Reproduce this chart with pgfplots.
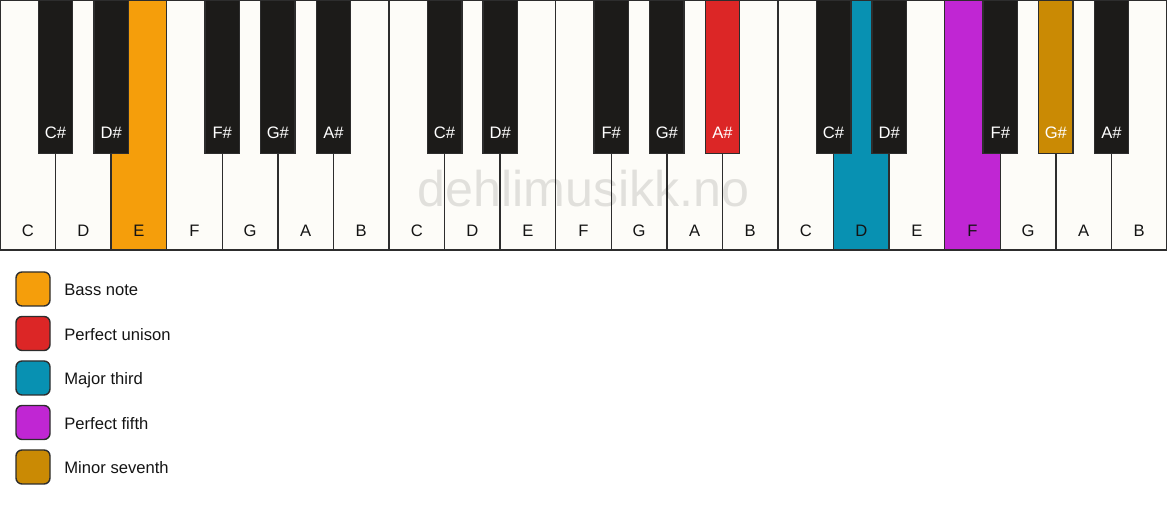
\documentclass[border=0pt]{standalone}
\usepackage{pgfplots}
\pgfplotsset{compat=1.18}
\usepackage{fontspec}
\setmainfont{Liberation Sans}

\definecolor{keywhite}{RGB}{253,252,248}
\definecolor{keyblack}{RGB}{28,27,25}
\definecolor{keyline}{RGB}{45,45,45}
\definecolor{labeldark}{RGB}{20,20,20}
\definecolor{bassnote}{RGB}{245,158,11}
\definecolor{unison}{RGB}{220,38,38}
\definecolor{third}{RGB}{8,145,178}
\definecolor{fifth}{RGB}{192,38,211}
\definecolor{seventh}{RGB}{202,138,4}

\newcommand{\keyfont}{\fontsize{8.3}{10}\selectfont}

% x in white-key units, y in pixels (0 = bottom edge of the keyboard)
% \wkey{left}{right}{fill}, \bkey{left}{right}{fill}
\newcommand{\wkey}[3]{\addplot[fill=#3, draw=keyline, line width=0.7pt]
  coordinates {(#1,0) (#2,0) (#2,250) (#1,250)} -- cycle;}
\newcommand{\bkey}[3]{\addplot[fill=#3, draw=keyline, line width=0.7pt]
  coordinates {(#1,96.7) (#2,96.7) (#2,250) (#1,250)} -- cycle;}
\newcommand{\wlab}[2]{\node[anchor=base, inner sep=0pt, text=labeldark, font=\keyfont] at (axis cs:#1,13.3) {#2};}
\newcommand{\blab}[2]{\node[anchor=base, inner sep=0pt, text=white, font=\keyfont] at (axis cs:#1,111) {#2};}
% legend swatch: top, bottom, fill
\newcommand{\swatch}[3]{\addplot[fill=#3, draw=keyline, line width=0.7pt, rounded corners=3pt]
  coordinates {(0.288,#1) (0.900,#1) (0.900,#2) (0.288,#2)} -- cycle;}
\newcommand{\swlab}[2]{\node[anchor=base west, inner sep=0pt, text=labeldark, font=\keyfont] at (axis cs:1.152,#1) {#2};}

\begin{document}
\begin{tikzpicture}
\begin{axis}[
    x=27.7857pt, y=0.5pt,
    xmin=0, xmax=21, ymin=-256, ymax=250,
    enlargelimits=false,
    hide axis,
    clip=false,
]

% white keys
\wkey{0}{1}{keywhite}
\wkey{1}{2}{keywhite}
\wkey{2}{3}{bassnote}
\wkey{3}{4}{keywhite}
\wkey{4}{5}{keywhite}
\wkey{5}{6}{keywhite}
\wkey{6}{7}{keywhite}
\wkey{7}{8}{keywhite}
\wkey{8}{9}{keywhite}
\wkey{9}{10}{keywhite}
\wkey{10}{11}{keywhite}
\wkey{11}{12}{keywhite}
\wkey{12}{13}{keywhite}
\wkey{13}{14}{keywhite}
\wkey{14}{15}{keywhite}
\wkey{15}{16}{third}
\wkey{16}{17}{keywhite}
\wkey{17}{18}{fifth}
\wkey{18}{19}{keywhite}
\wkey{19}{20}{keywhite}
\wkey{20}{21}{keywhite}

% watermark
\node[anchor=base, inner sep=0pt, text=black, text opacity=0.11,
      font=\fontsize{25.1}{30}\selectfont] at (axis cs:10.5,43) {dehlimusikk.no};

% black keys
\bkey{0.69}{1.31}{keyblack}
\bkey{1.69}{2.31}{keyblack}
\bkey{3.69}{4.31}{keyblack}
\bkey{4.69}{5.31}{keyblack}
\bkey{5.69}{6.31}{keyblack}
\bkey{7.69}{8.31}{keyblack}
\bkey{8.69}{9.31}{keyblack}
\bkey{10.69}{11.31}{keyblack}
\bkey{11.69}{12.31}{keyblack}
\bkey{12.69}{13.31}{unison}
\bkey{14.69}{15.31}{keyblack}
\bkey{15.69}{16.31}{keyblack}
\bkey{17.69}{18.31}{keyblack}
\bkey{18.69}{19.31}{seventh}
\bkey{19.69}{20.31}{keyblack}

% white key names
\wlab{0.5}{C}  \wlab{1.5}{D}  \wlab{2.5}{E}  \wlab{3.5}{F}
\wlab{4.5}{G}  \wlab{5.5}{A}  \wlab{6.5}{B}
\wlab{7.5}{C}  \wlab{8.5}{D}  \wlab{9.5}{E}  \wlab{10.5}{F}
\wlab{11.5}{G} \wlab{12.5}{A} \wlab{13.5}{B}
\wlab{14.5}{C} \wlab{15.5}{D} \wlab{16.5}{E} \wlab{17.5}{F}
\wlab{18.5}{G} \wlab{19.5}{A} \wlab{20.5}{B}

% black key names
\blab{1}{C\#}  \blab{2}{D\#}  \blab{4}{F\#}  \blab{5}{G\#}  \blab{6}{A\#}
\blab{8}{C\#}  \blab{9}{D\#}  \blab{11}{F\#} \blab{12}{G\#} \blab{13}{A\#}
\blab{15}{C\#} \blab{16}{D\#} \blab{18}{F\#} \blab{19}{G\#} \blab{20}{A\#}

% legend
\swatch{-22}{-56}{bassnote}
\swatch{-66.5}{-100.5}{unison}
\swatch{-111}{-145}{third}
\swatch{-155.5}{-189.5}{fifth}
\swatch{-200}{-234}{seventh}
\swlab{-45.7}{Bass note}
\swlab{-90.2}{Perfect unison}
\swlab{-134.7}{Major third}
\swlab{-179.2}{Perfect fifth}
\swlab{-223.7}{Minor seventh}

\end{axis}
\pgfresetboundingbox
\useasboundingbox (current axis.south west) rectangle (current axis.north east);
\end{tikzpicture}
\end{document}
